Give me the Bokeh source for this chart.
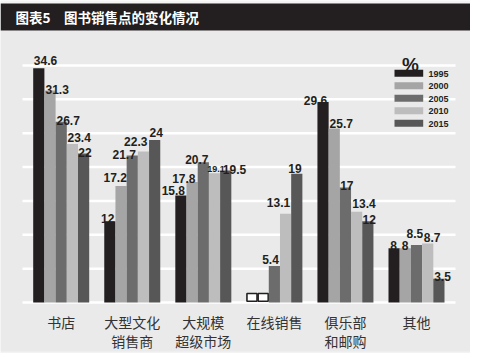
from bokeh.plotting import figure
from bokeh.models import Range1d
from bokeh.core.properties import value
from bokeh.embed import file_html
from bokeh.resources import INLINE

# ---------------- data ----------------
TITLE = "图表5　图书销售点的变化情况"
CATEGORIES = ["书店", "大型文化\n销售商", "大规模\n超级市场", "在线销售", "俱乐部\n和邮购", "其他"]
YEARS = ["1995", "2000", "2005", "2010", "2015"]
Y1995 = [34.6, 12.0, 15.8, None, 29.6, 8.0]
Y2000 = [31.3, 17.2, 17.8, None, 25.7, 8.0]
Y2005 = [26.7, 21.7, 20.7, 5.4, 17.0, 8.5]
Y2010 = [23.4, 22.3, 19.1, 13.1, 13.4, 8.7]
Y2015 = [22.0, 24.0, 19.5, 19.0, 12.0, 3.5]
GRID_TICKS = [5, 10, 15, 20, 25, 30, 35]
UNIT = "%"

# ---------------- styles / layout ----------------
COLORS = ["#231f20", "#a5a5a5", "#6c6c6c", "#bdbdbd", "#575757"]
W, H = 470, 353
XS = 71.06      # px per category
YS = 6.771      # px per percent
BAR_PX = 11.2
# label nudges (px): horizontal shift and gap above the bar, per year (row) per category
LABEL_DX = [
    [6.7, -2.1, -7.6, 0, -7.5, -0.6],
    [7.2, -5.9, -8.3, 0, 7.0, -0.3],
    [7.0, -8.1, -6.5, -3.9, 1.4, -1.7],
    [6.8, -7.7, 1.5, -7.1, 7.4, 4.5],
    [1.4, 1.6, 8.8, -1.8, 1.4, 3.6],
]
LABEL_GAP = [
    [7.7, 2.5, 5.0, 0, 1.6, 2.8],
    [1.1, 8.2, 3.8, 0, 4.7, 2.8],
    [1.2, 1.0, 2.5, 6.1, 1.5, 11.1],
    [6.3, 10.3, 4.4, 11.0, 8.6, 5.8],
    [1.5, 7.8, 1.0, 5.0, 1.5, 2.3],
]
LABEL_SIZE = [
    [12, 12, 12, 12, 12, 12],
    [12, 12, 12, 12, 12, 12],
    [12, 12, 12, 12, 12, 12],
    [12, 12, 9, 12, 12, 12],
    [12, 12, 12, 12, 12, 12],
]


def rx(px):  # reference pixel x -> data x
    return (px - 60.7) / XS


def ry(py):  # reference pixel y -> data y
    return (302 - py) / YS


p = figure(width=W, height=H,
           x_range=Range1d(rx(0), rx(W)), y_range=Range1d(ry(H), ry(0)),
           output_backend="svg", toolbar_location=None,
           x_axis_location=None, y_axis_location=None, min_border=0)
p.grid.visible = False
p.outline_line_color = None
p.background_fill_color = "#f3f3f3"
p.border_fill_color = "#f3f3f3"

# panel + title bar
p.quad(left=[rx(0)], right=[rx(473)], top=[ry(30)], bottom=[ry(351)],
       fill_color="#eaeaea", line_color=None)
p.quad(left=[rx(0)], right=[rx(478)], top=[ry(3)], bottom=[ry(30)],
       fill_color="#231f20", line_color=None)
p.text(x=[rx(15)], y=[ry(16.5)], text=[TITLE], text_align="left", text_baseline="middle",
       text_font=value("Noto Sans CJK SC"), text_font_style="bold",
       text_font_size="13.5px", text_color="white")

# grid lines
gx0, gx1 = rx(22), rx(455)
p.segment(x0=[gx0] * (len(GRID_TICKS) + 1), x1=[gx1] * (len(GRID_TICKS) + 1),
          y0=[0] + GRID_TICKS, y1=[0] + GRID_TICKS, line_color="white", line_width=2.5)

bw = BAR_PX / XS
series = [Y1995, Y2000, Y2005, Y2010, Y2015]
lx, ly, lt, ls = [], [], [], []
for j, (vals, col) in enumerate(zip(series, COLORS)):
    xs = [i + (j - 2) * bw for i in range(len(CATEGORIES))]
    tops = [v if v is not None else float("nan") for v in vals]
    p.vbar(x=xs, top=tops, width=bw, bottom=0, fill_color=col, line_color=None)
    # missing values: empty boxes
    mx = [x for x, v in zip(xs, vals) if v is None]
    if mx:
        p.quad(left=[x - bw / 2 + 0.008 for x in mx], right=[x + bw / 2 - 0.008 for x in mx],
               bottom=[ry(300.8)] * len(mx), top=[ry(293)] * len(mx),
               fill_color="white", line_color="#231f20", line_width=1.6)
    for i, v in enumerate(vals):
        if v is None:
            continue
        lx.append(xs[i] + LABEL_DX[j][i] / XS)
        ly.append(v + LABEL_GAP[j][i] / YS)
        lt.append(("%g" % v))
        ls.append("%dpx" % LABEL_SIZE[j][i])

# value labels (on top of all bars)
p.text(x=lx, y=ly, text=lt, text_align="center", text_baseline="alphabetic",
       text_font=value("Liberation Sans"), text_font_style="bold",
       text_font_size=ls, text_color="#231f20")

# category labels
line1 = [c.split("\n")[0] for c in CATEGORIES]
line2 = [c.split("\n")[1] if "\n" in c else "" for c in CATEGORIES]
cx = list(range(len(CATEGORIES)))
for txt, yy in ((line1, ry(321.5)), (line2, ry(340))):
    p.text(x=cx, y=[yy] * len(cx), text=txt, text_align="center", text_baseline="middle",
           text_font=value("Noto Sans CJK SC"), text_font_size="14px", text_color="#333333")

# legend
p.text(x=[rx(410)], y=[ry(63.5)], text=[UNIT], text_align="center", text_baseline="alphabetic",
       text_font=value("Liberation Sans"), text_font_style="bold", text_font_size="19px",
       text_color="#231f20")
for j, (yr, col) in enumerate(zip(YEARS, COLORS)):
    top = 69.3 + 12.5 * j
    p.quad(left=[rx(394)], right=[rx(422.7)], top=[ry(top)], bottom=[ry(top + 7)],
           fill_color=col, line_color=None)
    p.text(x=[rx(428)], y=[ry(top + 3.7)], text=[yr], text_align="left", text_baseline="middle",
           text_font=value("Liberation Sans"), text_font_style="bold", text_font_size="9px",
           text_color="#231f20")

open("out.html", "w").write(file_html(p, INLINE))
